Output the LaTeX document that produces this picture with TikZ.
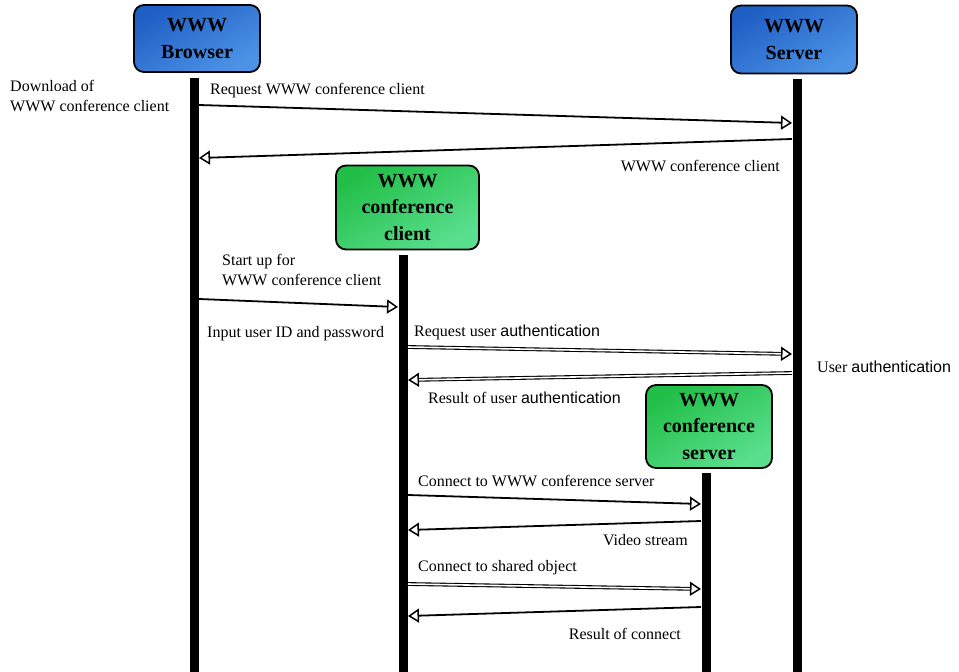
\documentclass[tikz,border=0pt]{standalone}
\usepackage{fontspec}
\setmainfont{Liberation Serif}
\newfontfamily\authfont{Liberation Sans}
\usetikzlibrary{arrows.meta}

\definecolor{blueDark}{HTML}{1F5FC4}
\definecolor{blueLight}{HTML}{4C93E6}
\definecolor{greenDark}{HTML}{22BF48}
\definecolor{greenLight}{HTML}{5ADF8E}

\begin{document}
\begin{tikzpicture}[x=1pt,y=-1pt,
  actor/.style={draw=black, line width=1.8pt, rounded corners=10pt, align=center,
    font=\fontsize{20}{26.5}\selectfont\bfseries, inner sep=0pt},
  bluebox/.style={actor, left color=blueDark, right color=blueLight, shading angle=30},
  greenbox/.style={actor, left color=greenDark, right color=greenLight, shading angle=30},
  lifeline/.style={line width=9pt},
  tip/.style={-{Triangle[open, length=11pt, width=14pt, line width=1.5pt]}},
  msg/.style={tip, line width=1.8pt},
  dmsg/.style={tip, line width=1.1pt, double=white, double distance=1.6pt},
  lbl/.style={font=\fontsize{16}{20}\selectfont, inner sep=0pt, align=left}
]
\useasboundingbox (0,0) rectangle (959,672);

% participants
\node[bluebox, minimum width=126pt, minimum height=67pt] (browser) at (197,38.5) {WWW\\Browser};
\node[bluebox, minimum width=126pt, minimum height=68pt] (server) at (794,39.5) {WWW\\Server};
\node[greenbox, minimum width=143pt, minimum height=84pt] (client) at (407.5,207.5) {WWW\\conference\\client};
\node[greenbox, minimum width=126pt, minimum height=83pt] (cserver) at (709,426.5) {WWW\\conference\\server};

% lifelines
\coordinate (bTop) at (194.5,78);  \coordinate (bBot) at (194.5,672);
\coordinate (sTop) at (797,79);    \coordinate (sBot) at (797,672);
\coordinate (cTop) at (403,255);   \coordinate (cBot) at (403,672);
\coordinate (vTop) at (706,473);   \coordinate (vBot) at (706,672);
\draw[lifeline] (bTop) -- (bBot);
\draw[lifeline] (sTop) -- (sBot);
\draw[lifeline] (cTop) -- (cBot);
\draw[lifeline] (vTop) -- (vBot);

% message end points on the lifelines
\coordinate (m1a) at (199,105);  \coordinate (m1b) at (792,123);
\coordinate (m2a) at (792,139);  \coordinate (m2b) at (199,158);
\coordinate (m3a) at (199,299);  \coordinate (m3b) at (398,307);
\coordinate (m5a) at (408,347);  \coordinate (m5b) at (792,354);
\coordinate (m6a) at (792,373);  \coordinate (m6b) at (408,380);
\coordinate (m8a) at (408,495);  \coordinate (m8b) at (701,504);
\coordinate (m9a) at (701,521);  \coordinate (m9b) at (408,530);
\coordinate (m10a) at (408,584); \coordinate (m10b) at (701,589);
\coordinate (m11a) at (701,607); \coordinate (m11b) at (408,616);

% messages
\draw[msg] (m1a) -- (m1b);
\draw[msg] (m2a) -- (m2b);
\draw[msg] (m3a) -- (m3b);
\draw[dmsg] (m5a) -- (m5b);
\draw[dmsg] (m6a) -- (m6b);
\draw[msg] (m8a) -- (m8b);
\draw[msg] (m9a) -- (m9b);
\draw[dmsg] (m10a) -- (m10b);
\draw[msg] (m11a) -- (m11b);

% labels
\node[lbl, anchor=north west] (tDownload) at (10,80) {Download of\\WWW conference client};
\node[lbl, anchor=west] (tReq) at (210,91) {Request WWW conference client};
\node[lbl, anchor=east] (tClient) at (780,166) {WWW conference client};
\node[lbl, anchor=north west] (tStart) at (222,254) {Start up for\\WWW conference client};
\node[lbl, anchor=west] (tInput) at (207,334) {Input user ID and password};
\node[lbl, anchor=west] (tReqAuth) at (414,332) {Request user {\authfont authentication}};
\node[lbl, anchor=west] (tResAuth) at (428,398) {Result of user {\authfont authentication}};
\node[lbl, anchor=west] (tUserAuth) at (817,367) {User {\authfont authentication}};
\node[lbl, anchor=west] (tConnSrv) at (418,481) {Connect to WWW conference server};
\node[lbl, anchor=east] (tVideo) at (688,540) {Video stream};
\node[lbl, anchor=west] (tShared) at (418,568) {Connect to shared object};
\node[lbl, anchor=east] (tResConn) at (681,634) {Result of connect};
\end{tikzpicture}
\end{document}
